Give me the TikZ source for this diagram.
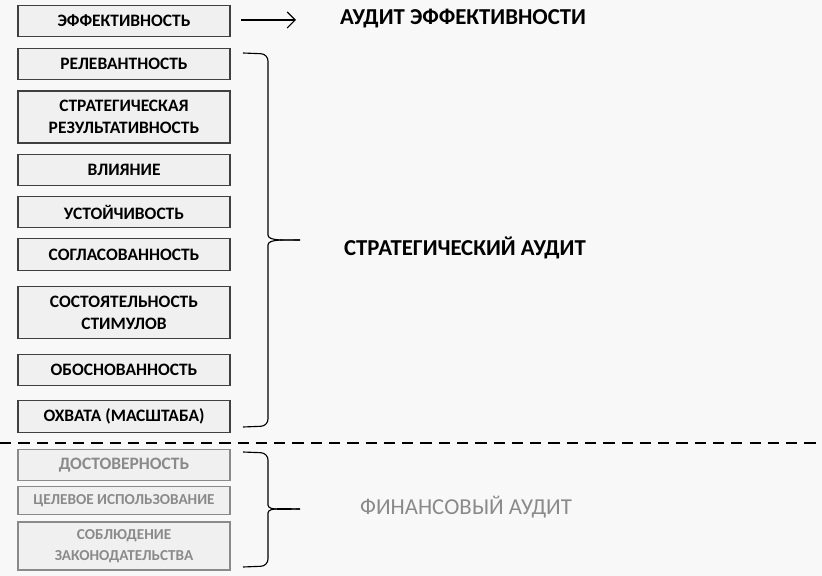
\documentclass[tikz,border=0pt]{standalone}
\usepackage{fontspec}
\setmainfont{Carlito}
\usepackage{xcolor}
\usetikzlibrary{arrows.meta,positioning}

\definecolor{bgcol}{HTML}{F8F8F8}
\definecolor{boxfill}{HTML}{F0F0F0}
\definecolor{fingray}{HTML}{8A8A8A}

\begin{document}
\begin{tikzpicture}[
    x=0.025cm, y=-0.025cm,
    box/.style={rectangle, draw=black!75, fill=boxfill, thick, align=center,
                minimum width=5.3cm, minimum height=0.78cm, inner sep=1pt,
                font=\fontsize{12.4}{15.5}\selectfont\bfseries},
    tall/.style={minimum height=1.3cm},
    finbox/.style={box, draw=fingray, text=fingray},
    arr/.style={-{Straight Barb[length=2mm]}, thick},
    brc/.style={thick, rounded corners=5pt},
    audit/.style={font=\fontsize{16.2}{19}\selectfont\bfseries}
]
    \fill[bgcol] (0,0) rectangle (822,576);
    \useasboundingbox (0,0) rectangle (822,576);

    \node[box] (eff)  at (124,21)  {ЭФФЕКТИВНОСТЬ};
    \node[box] (rel)  at (124,64)  {РЕЛЕВАНТНОСТЬ};
    \node[box, tall] (strat) at (124,117) {СТРАТЕГИЧЕСКАЯ\\РЕЗУЛЬТАТИВНОСТЬ};
    \node[box] (vli)  at (124,170) {ВЛИЯНИЕ};
    \node[box] (ust)  at (124,212) {УСТОЙЧИВОСТЬ};
    \node[box] (sogl) at (124,254.5) {СОГЛАСОВАННОСТЬ};
    \node[box, tall] (stim) at (124,312.5) {СОСТОЯТЕЛЬНОСТЬ\\СТИМУЛОВ};
    \node[box] (obos) at (124,370) {ОБОСНОВАННОСТЬ};
    \node[box] (ohv)  at (124,416.5) {ОХВАТА (МАСШТАБА)};

    \node[finbox] (dost) at (124,465) {ДОСТОВЕРНОСТЬ};
    \node[finbox, minimum height=0.72cm, font=\fontsize{10.8}{13}\selectfont\bfseries] (cel) at (124,500.5) {ЦЕЛЕВОЕ ИСПОЛЬЗОВАНИЕ};
    \node[finbox, minimum height=1.2cm, font=\fontsize{10.8}{14.5}\selectfont\bfseries] (sobl) at (124,546) {СОБЛЮДЕНИЕ\\ЗАКОНОДАТЕЛЬСТВА};

    \node[audit] (aeff) at (463,19)  {АУДИТ ЭФФЕКТИВНОСТИ};
    \node[audit] (astr) at (465,248) {СТРАТЕГИЧЕСКИЙ АУДИТ};
    \node[font=\fontsize{16.2}{19}\selectfont, text=fingray] (afin) at (466,507) {ФИНАНСОВЫЙ АУДИТ};

    \coordinate (arrs) at (241,20);
    \coordinate (arre) at (296,20);
    \draw[arr] (arrs) -- (arre);

    % strategic brace
    \coordinate (s1) at (243,53);
    \coordinate (s2) at (243,427);
    \coordinate (stip) at (300,240);
    \draw[brc] (s1) -- (268,54) -- (268,228) to[out=-90,in=180] (stip);
    \draw[brc] (s2) -- (268,426) -- (268,252) to[out=90,in=180] (stip);

    % financial brace
    \coordinate (f1) at (243,452);
    \coordinate (f2) at (243,567);
    \coordinate (ftip) at (300,509);
    \draw[brc] (f1) -- (268,453) -- (268,498) to[out=-90,in=180] (ftip);
    \draw[brc] (f2) -- (268,566) -- (268,520) to[out=90,in=180] (ftip);

    % separator
    \coordinate (sepl) at (0,443);
    \coordinate (sepr) at (822,443);
    \draw[very thick, dash pattern=on 8pt off 5pt] (sepl) -- (sepr);
\end{tikzpicture}
\end{document}
